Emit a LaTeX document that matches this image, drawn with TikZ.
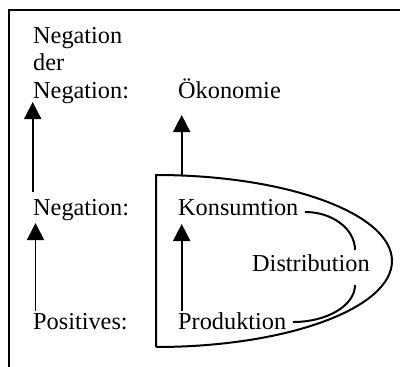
\documentclass[tikz,border=0pt]{standalone}
\usepackage{fontspec}
\setmainfont{Liberation Serif}
\usetikzlibrary{arrows.meta}
\begin{document}
\begin{tikzpicture}[x=1pt,y=-1pt,
  lbl/.style={anchor=base west,inner sep=0pt,font=\fontsize{24.3}{27.5}\selectfont},
  arr/.style={line width=1.8pt,-{Triangle[width=17pt,length=17pt]}},
  shp/.style={line width=2pt},
  frm/.style={line width=2.8pt}]
\useasboundingbox (0,0) rectangle (400,367);
% frame
\draw[frm] (9,367) -- (9,10) -- (400,10);
% texts
\node[lbl] (nn1) at (33,43) {Negation};
\node[lbl] (nn2) at (33,70) {der};
\node[lbl] (nn3) at (33,98) {Negation:};
\node[lbl] (oek) at (178,98) {Ökonomie};
\node[lbl] (neg) at (33,215) {Negation:};
\node[lbl] (kons) at (178,215) {Konsumtion};
\node[lbl] (dist) at (252,271.5) {Distribution};
\node[lbl] (pos) at (33,329) {Positives:};
\node[lbl] (prod) at (178,329) {Produktion};
% coordinates
\coordinate (a1s) at (32.7,192);
\coordinate (a1e) at (32.7,102);
\coordinate (a2s) at (181.7,175);
\coordinate (a2e) at (181.7,115);
\coordinate (a3s) at (35.5,311);
\coordinate (a3e) at (35.5,223);
\coordinate (a4s) at (181.7,311);
\coordinate (a4e) at (181.7,224);
% arrows
\draw[arr] (a1s) -- (a1e);
\draw[arr] (a2s) -- (a2e);
\draw[arr] (a3s) -- (a3e);
\draw[arr] (a4s) -- (a4e);
% D shape
\draw[shp,line join=miter] (156,347) -- (156,175)
  arc[start angle=90,end angle=-90,x radius=236pt,y radius=86pt];
% inner curves
\draw[shp] (305,212) arc[start angle=90,end angle=0,x radius=50pt,y radius=38pt];
\draw[shp] (355,285) arc[start angle=0,end angle=-90,x radius=62pt,y radius=37pt];
\end{tikzpicture}
\end{document}
